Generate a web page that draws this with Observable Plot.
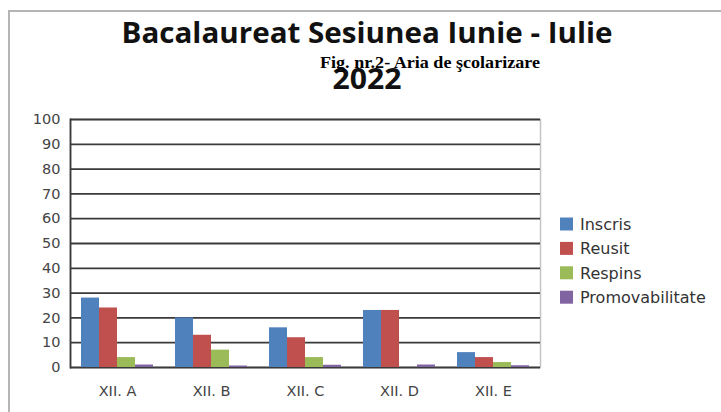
<!DOCTYPE html>
<html>
<head>
<meta charset="utf-8">
<script src="https://cdn.jsdelivr.net/npm/d3@7"></script>
<script src="https://cdn.jsdelivr.net/npm/@observablehq/plot@0.6"></script>
<style>
  html, body { margin: 0; padding: 0; background: #fff; }
  #wrap { position: relative; width: 721px; height: 412px; overflow: hidden; background: #fff; }
  #border { position: absolute; left: 8px; top: 10px; width: 713px; height: 402px;
            border-top: 2px solid #b4b4b4; border-left: 2px solid #b4b4b4; box-sizing: border-box; }
  #chart, #overlay { position: absolute; left: 0; top: 0; }
</style>
</head>
<body>
<div id="wrap">
  <div id="border"></div>
  <div id="chart"></div>
  <svg id="overlay" width="721" height="412"></svg>
</div>
<script>
// ---- data ----
const classes = ["XII. A", "XII. B", "XII. C", "XII. D", "XII. E"];
const series = ["Inscris", "Reusit", "Respins", "Promovabilitate"];
const inscris = [28, 20, 16, 23, 6];
const reusit = [24, 13, 12, 23, 4];
const respins = [4, 7, 4, 0, 2];
const promovabilitate = [1, 0.6, 0.9, 1, 0.7];
const yTicks = [0, 10, 20, 30, 40, 50, 60, 70, 80, 90, 100];
const colors = ["#4F81BD", "#C0504D", "#9BBB59", "#8064A2"];
const titleLine1 = "Bacalaureat Sesiunea Iunie - Iulie";
const titleLine2 = "2022";
const figCaption = "Fig. nr.2- Aria de şcolarizare";

const valuesBySeries = [inscris, reusit, respins, promovabilitate];
const rows = [];
classes.forEach((c, i) => series.forEach((s, j) => rows.push({cls: c, series: s, value: valuesBySeries[j][i]})));

const chart = Plot.plot({
  width: 721,
  height: 412,
  marginTop: 119,
  marginBottom: 45,
  marginLeft: 69,
  marginRight: 181,
  style: {fontFamily: "DejaVu Sans, sans-serif", fontSize: "14.5px", color: "#444", background: "transparent"},
  fx: {domain: classes, padding: 0, label: null, axis: "bottom", tickSize: 0, tickPadding: 18},
  x: {domain: series, axis: null, paddingInner: 0, paddingOuter: 0.48},
  y: {domain: [0, 100], ticks: yTicks, tickSize: 0, tickPadding: 10, label: null},
  color: {domain: series, range: colors},
  marks: [
    Plot.frame({stroke: "#c4c4c4", strokeWidth: 1.5, facet: "super"}),
    Plot.ruleY(yTicks, {stroke: "#3a3a3a", strokeWidth: 1.8}),
    Plot.frame({anchor: "left", stroke: "#3a3a3a", strokeWidth: 1.8, facet: "super"}),
    Plot.barY(rows, {fx: "cls", x: "series", y: "value", fill: "series"})
  ]
});
document.getElementById("chart").appendChild(chart);

// ---- titles and legend ----
const ov = d3.select("#overlay");
ov.append("text").attr("x", 367).attr("y", 43).attr("text-anchor", "middle")
  .attr("font-family", "Open Sans, sans-serif").attr("font-weight", 700).attr("font-size", 29)
  .attr("textLength", 491).attr("lengthAdjust", "spacingAndGlyphs")
  .attr("fill", "#111").text(titleLine1);
ov.append("text").attr("x", 367).attr("y", 89).attr("text-anchor", "middle")
  .attr("font-family", "Open Sans, sans-serif").attr("font-weight", 700).attr("font-size", 28)
  .attr("textLength", 69).attr("lengthAdjust", "spacingAndGlyphs")
  .attr("fill", "#111").text(titleLine2);
ov.append("text").attr("x", 320).attr("y", 68)
  .attr("font-family", "Liberation Serif, serif").attr("font-weight", 700).attr("font-size", 16.5)
  .attr("textLength", 220).attr("lengthAdjust", "spacingAndGlyphs")
  .attr("fill", "#000").text(figCaption);

const lg = ov.append("g").attr("font-family", "DejaVu Sans, sans-serif").attr("font-size", 16).attr("fill", "#333");
series.forEach((s, i) => {
  const cy = 224 + i * 24.4;
  lg.append("rect").attr("x", 560).attr("y", cy - 6.5).attr("width", 13).attr("height", 13).attr("fill", colors[i]);
  lg.append("text").attr("x", 580).attr("y", cy + 6).text(s);
});
</script>
</body>
</html>
